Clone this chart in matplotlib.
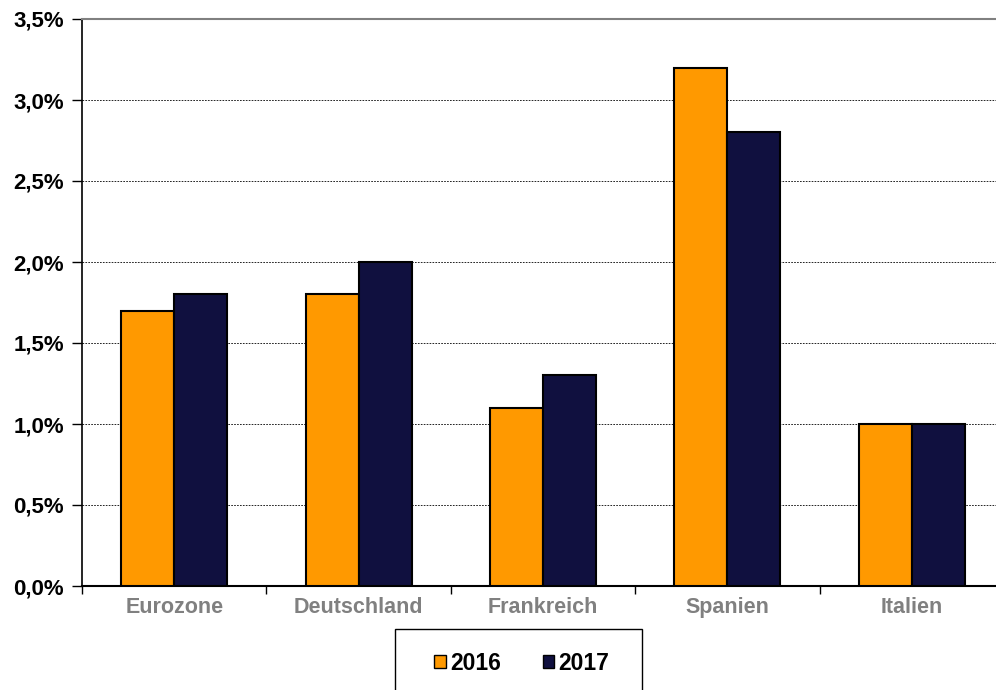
import matplotlib
matplotlib.use("Agg")
import matplotlib.pyplot as plt
import numpy as np
from matplotlib.ticker import FuncFormatter
from matplotlib.patches import Rectangle

plt.rcParams['font.family'] = ['Liberation Sans', 'DejaVu Sans']

# data
laender = ["Eurozone", "Deutschland", "Frankreich", "Spanien", "Italien"]
werte_2016 = [1.7, 1.8, 1.1, 3.2, 1.0]
werte_2017 = [1.8, 2.0, 1.3, 2.8, 1.0]
jahre = ["2016", "2017"]

fig = plt.figure(figsize=(9.96, 6.9), dpi=100)
ax = fig.add_axes([82/996, 1-586/690, 922/996, 567/690])

x = np.arange(len(laender))
bw = 0.287
ax.bar(x - bw/2, werte_2016, bw, color="#FF9900", edgecolor="black", linewidth=1.5, label=jahre[0], zorder=3)
ax.bar(x + bw/2, werte_2017, bw, color="#10103F", edgecolor="black", linewidth=1.5, label=jahre[1], zorder=3)

ax.set_xlim(-0.5, len(laender) - 0.5)
ax.set_ylim(0, 3.5)
ax.set_yticks(np.arange(0, 3.51, 0.5))
ax.yaxis.set_major_formatter(FuncFormatter(lambda v, p: f"{v:.1f}%".replace(".", ",")))
ax.yaxis.grid(True, linestyle=(0, (2, 1.5)), color="black", linewidth=0.6, zorder=0)

ax.set_xticks(x)
ax.set_xticklabels(laender, fontsize=15.5, fontweight="bold", color="#808080")
ax.tick_params(axis="x", length=0, pad=8)
ax.set_xticks(np.arange(-0.5, len(laender)), minor=True)
ax.tick_params(axis="x", which="minor", length=6, width=1, direction="out")
ax.tick_params(axis="y", length=7, width=1, labelsize=16, pad=6)
for t in ax.get_yticklabels():
    t.set_fontweight("bold")

ax.spines["top"].set_color("#808080")
ax.spines["top"].set_linewidth(1.5)
ax.spines["right"].set_visible(False)
ax.spines["left"].set_linewidth(1.2)
ax.spines["bottom"].set_linewidth(1.5)

# legend box (runs past the bottom edge like in the original)
fig.patches.append(Rectangle((395/996, -0.05), 247/996, 0.05 + 61/690,
                             transform=fig.transFigure, fill=False,
                             edgecolor="black", linewidth=1))
leg = fig.legend(loc="center", bbox_to_anchor=(522/996, 1-663/690), ncol=2,
                 prop={"size": 16.5, "weight": "bold"}, frameon=False,
                 handlelength=0.5, handleheight=0.5,
                 columnspacing=1.8, handletextpad=0.2, borderpad=0,
                 borderaxespad=0)
for h in leg.legend_handles:
    h.set_linewidth(1)

fig.savefig("out.png", dpi=100)
